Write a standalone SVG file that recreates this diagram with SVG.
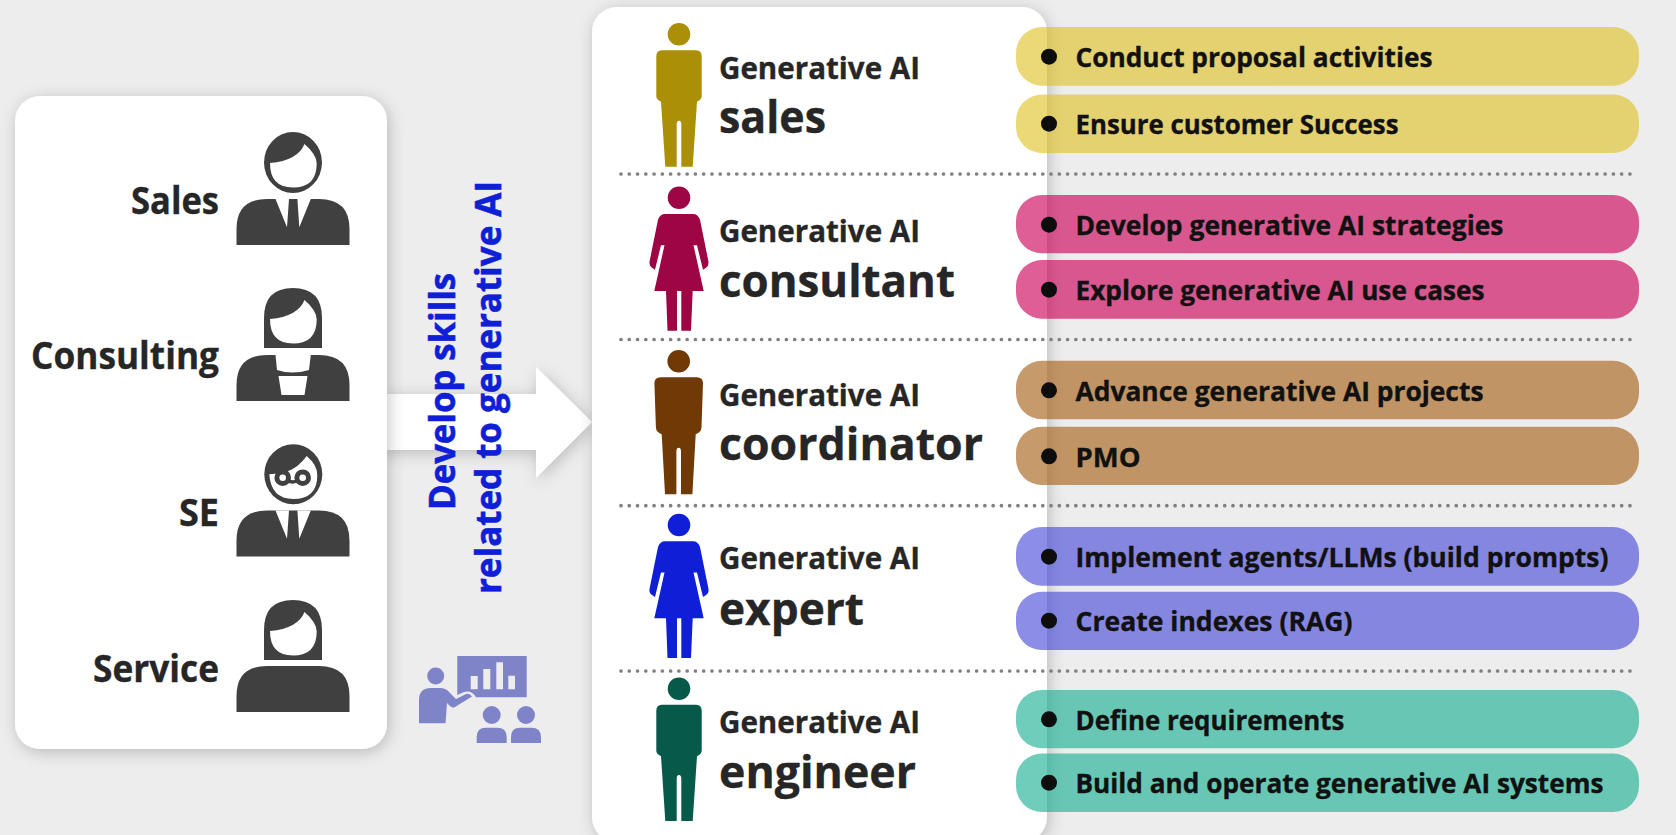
<svg xmlns="http://www.w3.org/2000/svg" xmlns:xlink="http://www.w3.org/1999/xlink" width="1676" height="835" viewBox="0 0 1676 835">
<style>
text{font-family:"Open Sans","Noto Sans","Liberation Sans",sans-serif;font-weight:700;fill:#262626;stroke:#262626;stroke-width:.35px}
.dept{font-size:37px;text-anchor:end}
.ga{font-size:30px}
.role{font-size:45px}
.task{font-size:26.5px;fill:#111;stroke:#111}
.blue{font-size:35px;fill:#0f1fd6;stroke:#0f1fd6;stroke-width:.6px;text-anchor:middle}
.y{fill:#ddc01e;fill-opacity:.6}
.p{fill:#cb0057;fill-opacity:.63}
.b{fill:#a9651f;fill-opacity:.66}
.i{fill:#3f41d6;fill-opacity:.6}
.t{fill:#0fae8e;fill-opacity:.6}
.dot{fill:#0d0d0d}
.sep{stroke:#808080;stroke-width:3.7;stroke-linecap:round;stroke-dasharray:0 8.27;fill:none}
.ic{fill:#404040}
.wh{fill:#fff}
.pres{fill:#7f84c8}
</style>
<defs>
<filter id="sh" x="-15%" y="-15%" width="130%" height="130%"><feDropShadow dx="2" dy="3" stdDeviation="8" flood-color="#000" flood-opacity=".22"/></filter>
<path id="man" d="M-17,16H17Q22.7,16 22.7,22V62Q22.7,65 18,67.5L13.7,132.4H2.3V90Q2.3,86.4 0,86.4Q-2.3,86.4 -2.3,90V132.4H-13.7L-18,67.5Q-22.7,65 -22.7,62V22Q-22.7,16 -17,16ZM11.3,0A11.3,11.3 0 1 1 -11.3,0A11.3,11.3 0 1 1 11.3,0Z"/>
<path id="woman" d="M-14,16.3H14Q19,16.3 21,22L29.5,64Q30,68 27,70L24,72L18,47.5H14.5L24.7,93.3H13.7L12,133H2.3V93.3H-2V133H-11.5L-13,93.3H-24.7L-14.5,47.5H-18L-24,72L-27,70Q-30,68 -29.5,64L-21,22Q-19,16.3 -14,16.3ZM11.3,0A11.3,11.3 0 1 1 -11.3,0A11.3,11.3 0 1 1 11.3,0Z"/>
<path id="torso" d="M236.500,46V30Q236.500,0 267,0H319Q349.500,0 349.500,30V46Z"/>
<path id="face" d="M-23,0.500Q5,-2 11.500,-18.500Q23.700,-8 23.700,1Q23.700,25 0,25Q-23,25 -23,0.500Z"/>
</defs>
<rect width="1676" height="835" fill="#ededed"/>

<g id="connectors">
<path d="M380,394H536V367L592,422L536,478V450H380Z" fill="#fff" filter="url(#sh)"/>
</g>

<g id="panel-left">
<rect x="15" y="96" width="372" height="653" rx="25" fill="#fff" filter="url(#sh)"/>
</g>

<g id="sales-person">
<text class="dept" x="219" y="214" textLength="88" lengthAdjust="spacingAndGlyphs">Sales</text>
<ellipse class="ic" cx="293" cy="162.500" rx="29" ry="30.500"/>
<use xlink:href="#face" href="#face" class="wh" transform="translate(293,162.500)"/>
<g transform="translate(0,199)"><use xlink:href="#torso" href="#torso" class="ic"/><path class="wh" d="M275.500,0L287,28.300L289,0ZM310.800,0L299.300,28.300L297.400,0Z"/></g>
</g>
<g id="consulting-person">
<text class="dept" x="219" y="369" textLength="188" lengthAdjust="spacingAndGlyphs">Consulting</text>
<path class="ic" d="M264,348V318Q264,288 293,288Q322,288 322,318V348Z"/>
<use xlink:href="#face" href="#face" class="wh" transform="translate(293,318.500)"/>
<g transform="translate(0,355)"><use xlink:href="#torso" href="#torso" class="ic"/><path class="wh" d="M275.500,0L277,15Q292,20 309,15L310.800,0ZM278.500,21H307.500L304.500,40H281.500Z"/></g>
</g>
<g id="se-person">
<text class="dept" x="219" y="526" textLength="40" lengthAdjust="spacingAndGlyphs">SE</text>
<ellipse class="ic" cx="293.300" cy="474.300" rx="29" ry="30"/>
<path class="wh" d="M269.300,474.300Q271,499 293.300,499Q317.300,499 317.300,475Q317.300,465 306.700,456Q298,468 286.700,471.700Q277,474 269.300,474.300Z"/>
<circle cx="282.700" cy="477.700" r="5.800" fill="#fff" stroke="#404040" stroke-width="5"/>
<circle cx="302.700" cy="477.700" r="5.800" fill="#fff" stroke="#404040" stroke-width="5"/>
<path d="M287,480Q293,484 298,480" fill="none" stroke="#404040" stroke-width="3.500"/>
<g transform="translate(0,510.500)"><use xlink:href="#torso" href="#torso" class="ic"/><path class="wh" d="M275.500,0L287,28.300L289,0ZM310.800,0L299.300,28.300L297.400,0Z"/></g>
</g>
<g id="service-person">
<text class="dept" x="219" y="682" textLength="126" lengthAdjust="spacingAndGlyphs">Service</text>
<path class="ic" d="M264,660V630Q264,600 293,600Q322,600 322,630V660Z"/>
<use xlink:href="#face" href="#face" class="wh" transform="translate(293,630.500)"/>
<g transform="translate(0,666)"><use xlink:href="#torso" href="#torso" class="ic"/></g>
</g>

<g id="develop-label">
<text class="blue" transform="translate(455,391.500) rotate(-90)" textLength="237" lengthAdjust="spacingAndGlyphs">Develop skills</text>
<text class="blue" transform="translate(501,387.500) rotate(-90)" textLength="413" lengthAdjust="spacingAndGlyphs">related to generative AI</text>
</g>

<g id="presenter-icon">
<path class="pres" fill-rule="evenodd" d="M457.300,656H526.700V697.300H476Q472,690 464,692L457.300,695ZM470.700,676V689.300H477.700V676ZM483.300,669V689.300H490.300V669ZM496.300,662.300V689.300H503V662.300ZM508.300,675.700V689.300H515V675.700Z"/>
<circle class="pres" cx="435.700" cy="676" r="8.500"/>
<path class="pres" d="M419,723.300V700Q419,688 431,688H440Q446,688 450,693L456,699L466,694Q470,693 472,696.500L455,707Q453,708.500 450,706L447,703L445.500,723.300Z"/>
<circle class="pres" cx="491.700" cy="715" r="9"/>
<circle class="pres" cx="526" cy="715" r="9"/>
<path class="pres" d="M476.700,743V737Q476.700,727.700 486,727.700H497Q506.700,727.700 506.700,737V743Z"/>
<path class="pres" d="M511,743V737Q511,727.700 520,727.700H531.300Q541,727.700 541,737V743Z"/>
</g>

<g id="panel-right">
<rect x="592" y="7" width="455" height="835" rx="25" fill="#fff" filter="url(#sh)"/>
</g>

<g id="separators">
<path class="sep" d="M621,174H1632"/>
<path class="sep" d="M621,339.500H1632"/>
<path class="sep" d="M621,505.700H1632"/>
<path class="sep" d="M621,671H1632"/>
</g>

<g id="role-sales">
<use xlink:href="#man" href="#man" fill="#ab8f07" transform="translate(679,34.300)"/>
<text class="ga" x="719" y="78.500" textLength="201" lengthAdjust="spacingAndGlyphs">Generative AI</text>
<text class="role" x="719" y="132.700" textLength="107" lengthAdjust="spacingAndGlyphs">sales</text>
<rect class="y" x="1016" y="27" width="623" height="58.700" rx="26"/>
<circle class="dot" cx="1049" cy="56.700" r="8"/>
<text class="task" x="1075.500" y="67" textLength="357" lengthAdjust="spacingAndGlyphs">Conduct proposal activities</text>
<rect class="y" x="1016" y="94.500" width="623" height="58.500" rx="26"/>
<circle class="dot" cx="1049" cy="123.700" r="8"/>
<text class="task" x="1075.500" y="134" textLength="323" lengthAdjust="spacingAndGlyphs">Ensure customer Success</text>
</g>
<g id="role-consultant">
<use xlink:href="#woman" href="#woman" fill="#9e0544" transform="translate(679,197.700)"/>
<text class="ga" x="719" y="242" textLength="201" lengthAdjust="spacingAndGlyphs">Generative AI</text>
<text class="role" x="719" y="296.700" textLength="236" lengthAdjust="spacingAndGlyphs">consultant</text>
<rect class="p" x="1016" y="195" width="623" height="58.300" rx="26"/>
<circle class="dot" cx="1049" cy="224.700" r="8"/>
<text class="task" x="1075.500" y="235" textLength="428" lengthAdjust="spacingAndGlyphs">Develop generative AI strategies</text>
<rect class="p" x="1016" y="260" width="623" height="58.700" rx="26"/>
<circle class="dot" cx="1049" cy="289.700" r="8"/>
<text class="task" x="1075.500" y="300" textLength="409" lengthAdjust="spacingAndGlyphs">Explore generative AI use cases</text>
</g>
<g id="role-coordinator">
<path fill="#6f3a06" transform="translate(678.700,361.300)" d="M-18,16H18Q24.300,16 24.300,22L22.800,66Q22.600,71 17,73L13.700,133H2.300V90Q2.300,86.400 0,86.400Q-2.300,86.400 -2.300,90V133H-13.700L-17,73Q-22.600,71 -22.800,66L-24.300,22Q-24.300,16 -18,16ZM11.300,0A11.300,11.300 0 1 1 -11.300,0A11.300,11.300 0 1 1 11.300,0Z"/>
<text class="ga" x="719" y="406" textLength="201" lengthAdjust="spacingAndGlyphs">Generative AI</text>
<text class="role" x="719" y="460.300" textLength="264" lengthAdjust="spacingAndGlyphs">coordinator</text>
<rect class="b" x="1016" y="360.700" width="623" height="58.600" rx="26"/>
<circle class="dot" cx="1049" cy="390.300" r="8"/>
<text class="task" x="1075.500" y="401" textLength="408" lengthAdjust="spacingAndGlyphs">Advance generative AI projects</text>
<rect class="b" x="1016" y="426.700" width="623" height="58.300" rx="26"/>
<circle class="dot" cx="1049" cy="456.300" r="8"/>
<text class="task" x="1075.500" y="466.700" textLength="65" lengthAdjust="spacingAndGlyphs">PMO</text>
</g>
<g id="role-expert">
<use xlink:href="#woman" href="#woman" fill="#0f1fd6" transform="translate(679,525)"/>
<text class="ga" x="719" y="569.300" textLength="201" lengthAdjust="spacingAndGlyphs">Generative AI</text>
<text class="role" x="719" y="624.500" textLength="145" lengthAdjust="spacingAndGlyphs">expert</text>
<rect class="i" x="1016" y="527" width="623" height="58.700" rx="26"/>
<circle class="dot" cx="1049" cy="556.700" r="8"/>
<text class="task" x="1075.500" y="567" textLength="533" lengthAdjust="spacingAndGlyphs">Implement agents/LLMs (build prompts)</text>
<rect class="i" x="1016" y="591.700" width="623" height="58.300" rx="26"/>
<circle class="dot" cx="1049" cy="620.700" r="8"/>
<text class="task" x="1075.500" y="631" textLength="277" lengthAdjust="spacingAndGlyphs">Create indexes (RAG)</text>
</g>
<g id="role-engineer">
<use xlink:href="#man" href="#man" fill="#075a49" transform="translate(679,688.700)"/>
<text class="ga" x="719" y="732.500" textLength="201" lengthAdjust="spacingAndGlyphs">Generative AI</text>
<text class="role" x="719" y="787.500" textLength="197" lengthAdjust="spacingAndGlyphs">engineer</text>
<rect class="t" x="1016" y="690" width="623" height="58.300" rx="26"/>
<circle class="dot" cx="1049" cy="719.300" r="8"/>
<text class="task" x="1075.500" y="729.700" textLength="269" lengthAdjust="spacingAndGlyphs">Define requirements</text>
<rect class="t" x="1016" y="753.500" width="623" height="58.500" rx="26"/>
<circle class="dot" cx="1049" cy="782.700" r="8"/>
<text class="task" x="1075.500" y="793" textLength="528" lengthAdjust="spacingAndGlyphs">Build and operate generative AI systems</text>
</g>
</svg>
